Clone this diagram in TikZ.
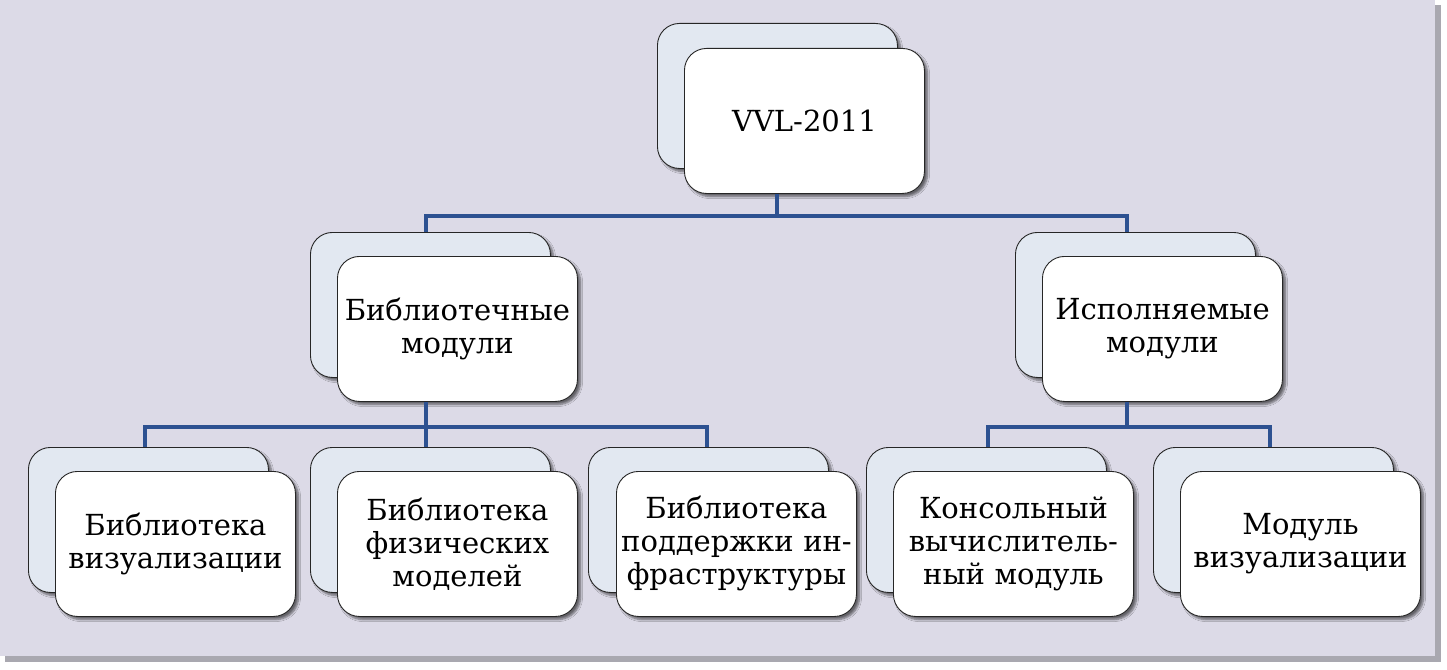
\documentclass[tikz,border=0pt]{standalone}
\usepackage{fontspec}
\setmainfont{DejaVu Serif}
\usetikzlibrary{shadows.blur}
\definecolor{panel}{HTML}{DCDAE7}
\definecolor{panelshadow}{HTML}{A9A8B0}
\definecolor{backfill}{HTML}{E2E8F1}
\definecolor{linkblue}{HTML}{2D5191}
\tikzset{
  boxbase/.style={draw=black!85, line width=0.9pt, rounded corners=22pt,
    minimum width=240pt, minimum height=145pt, anchor=north west, inner sep=0pt,
    blur shadow={shadow xshift=3pt, shadow yshift=-3pt, shadow blur steps=6, shadow opacity=55}},
  backbox/.style={boxbase, fill=backfill},
  frontbox/.style={boxbase, fill=white, align=center, text width=236pt,
    font=\fontsize{29}{33}\selectfont},
  conn/.style={draw=linkblue, line width=4.5pt, line cap=butt, line join=miter}
}
\begin{document}
\begin{tikzpicture}[x=1pt,y=-1pt]
\useasboundingbox (0,0) rectangle (1447,669);
\fill[white] (0,0) rectangle (1447,669);
\fill[panelshadow] (5,5) rectangle (1441,662);
\fill[panel] (0,0) rectangle (1435,656);

% junction coordinates
\coordinate (j0) at (777,216);
\coordinate (jL) at (426,216);
\coordinate (jR) at (1127,216);
\coordinate (kL) at (426,427);
\coordinate (kR) at (1127,427);
\coordinate (c1) at (145,427);
\coordinate (c3) at (707,427);
\coordinate (c4) at (988,427);
\coordinate (c5) at (1270,427);

% boxes
\node[backbox] (bT) at (657,23) {};
\node[frontbox] (fT) at (684,48) {VVL-2011};
\node[backbox] (bL) at (310,232) {};
\node[frontbox] (fL) at (337,256) {Библиотечные\\модули};
\node[backbox] (bR) at (1015,232) {};
\node[frontbox] (fR) at (1042,256) {Исполняемые\\модули};
\node[backbox] (b1) at (28,447) {};
\node[frontbox] (f1) at (55,471) {Библиотека\\визуализации};
\node[backbox] (b2) at (310,447) {};
\node[frontbox] (f2) at (337,471) {Библиотека\\физических\\моделей};
\node[backbox] (b3) at (588,447) {};
\node[frontbox] (f3) at (616,471) {Библиотека\\поддержки ин-\\фраструктуры};
\node[backbox] (b4) at (866,447) {};
\node[frontbox] (f4) at (893,471) {Консольный\\вычислитель-\\ный модуль};
\node[backbox] (b5) at (1153,447) {};
\node[frontbox] (f5) at (1180,471) {Модуль\\визуализации};

% connectors
\draw[conn] (fT.south -| j0) -- (j0);
\draw[conn] (jL |- bL.north) -- (jL) -- (jR) -- (jR |- bR.north);
\draw[conn] (fL.south -| kL) -- (kL);
\draw[conn] (c1 |- b1.north) -- (c1) -- (c3) -- (c3 |- b3.north);
\draw[conn] (kL) -- (kL |- b2.north);
\draw[conn] (fR.south -| kR) -- (kR);
\draw[conn] (c4 |- b4.north) -- (c4) -- (c5) -- (c5 |- b5.north);
\end{tikzpicture}
\end{document}
